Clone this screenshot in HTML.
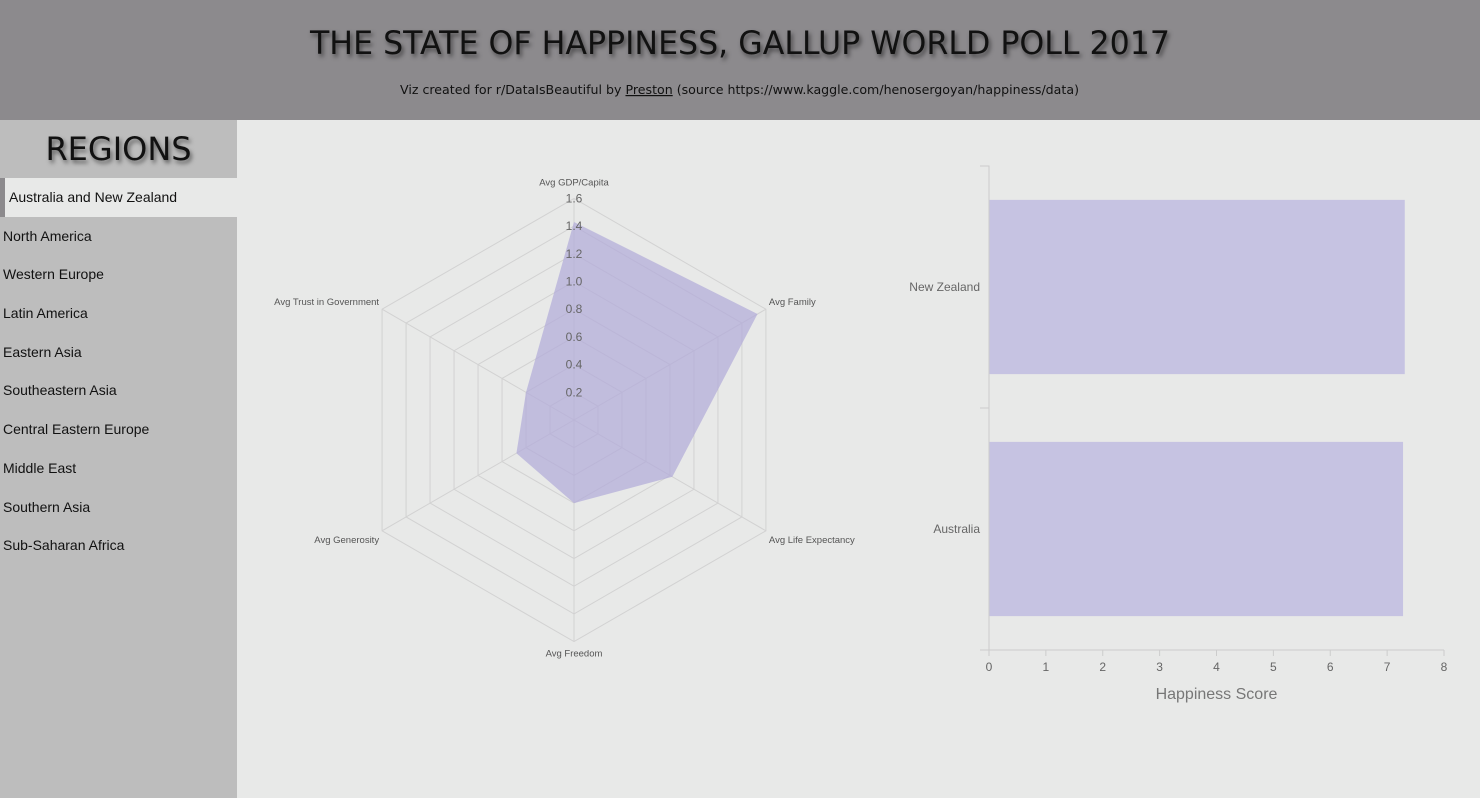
<!DOCTYPE html>
<html><head><meta charset="utf-8"><style>
body{margin:0;width:1480px;height:798px;background:#e8e9e8;font-family:"Liberation Sans",sans-serif;overflow:hidden;position:relative}
#hdr{position:absolute;left:0;top:0;width:1480px;height:120px;background:#8c8a8d}
#side{position:absolute;left:0;top:120px;width:237px;height:678px;background:#bdbdbd}
#side .t{height:58px;line-height:58px;text-align:center;font-family:"DejaVu Sans",sans-serif;font-size:32px;color:#111;text-shadow:2px 3px 4px rgba(0,0,0,.5)}
.it{height:38.7px;line-height:38.7px;padding-left:3px;font-size:14px;color:#111;box-sizing:border-box}
.it.sel{background:#e8e9e8;border-left:5px solid #8c8a8d;padding-left:4px}
svg text{font-family:"Liberation Sans",sans-serif}
</style></head><body>
<div id="hdr">
<svg width="1480" height="120">
<text x="310" y="54" textLength="860" lengthAdjust="spacingAndGlyphs" style="font-family:'DejaVu Sans',sans-serif;font-size:32px;fill:#111;filter:drop-shadow(2px 3px 2px rgba(0,0,0,.5))">THE STATE OF HAPPINESS, GALLUP WORLD POLL 2017</text>
<text x="400" y="94" textLength="679" lengthAdjust="spacingAndGlyphs" style="font-family:'DejaVu Sans',sans-serif;font-size:12px;fill:#111">Viz created for r/DataIsBeautiful by <tspan text-decoration="underline">Preston</tspan> (source https://www.kaggle.com/henosergoyan/happiness/data)</text>
</svg></div>
<div id="side">
<div class="t">REGIONS</div>
<div class="it sel">Australia and New Zealand</div>
<div class="it">North America</div>
<div class="it">Western Europe</div>
<div class="it">Latin America</div>
<div class="it">Eastern Asia</div>
<div class="it">Southeastern Asia</div>
<div class="it">Central Eastern Europe</div>
<div class="it">Middle East</div>
<div class="it">Southern Asia</div>
<div class="it">Sub-Saharan Africa</div>
</div>
<svg id="radar" style="position:absolute;left:0;top:0" width="1480" height="798"></svg>
<script>
const radarAxes=["Avg GDP/Capita","Avg Family","Avg Life Expectancy","Avg Freedom","Avg Generosity","Avg Trust in Government"];
const radarValues=[1.43,1.53,0.82,0.60,0.48,0.40];
const radarTicks=[0.2,0.4,0.6,0.8,1.0,1.2,1.4,1.6];
const barCountries=["New Zealand","Australia"];
const barValues=[7.31,7.28];
const barTicks=[0,1,2,3,4,5,6,7,8];
const NS="http://www.w3.org/2000/svg";
const svg=document.getElementById('radar');
function mk(t,a,txt){const e=document.createElementNS(NS,t);for(const k in a)e.setAttribute(k,a[k]);if(txt!==undefined)e.textContent=txt;svg.appendChild(e);return e;}
const cx=574,cy=420,R=221.6,maxV=1.6;
function rScale(v){return v/maxV*R;}
function pt(i,v){const a=-Math.PI/2+i*Math.PI/3;const r=rScale(v);return [cx+r*Math.cos(a),cy+r*Math.sin(a)];}
radarTicks.forEach(t=>{
 const p=radarAxes.map((_,i)=>pt(i,t).join(',')).join(' ');
 const e=mk('polygon',{points:p,fill:'none',stroke:'#d2d2d2','stroke-width':1});
 
 
});
radarAxes.forEach((n,i)=>{
 const [x,y]=pt(i,maxV);
 const l=mk('line',{x1:cx,y1:cy,x2:x,y2:y,stroke:'#d2d2d2'});
 
 
 let anchor='middle',dx=0,dy=0;
 if(i===0){dy=-13;}else if(i===3){dy=15;}else if(i<3){anchor='start';dx=3;dy=(i===1?-4:12);}else{anchor='end';dx=-3;dy=(i===5?-4:12);}
 const t=mk('text',{x:x+dx,y:y+dy,'text-anchor':anchor,'font-size':9.5,fill:'#555'},n);
 
 
});
const poly=mk('polygon',{points:radarValues.map((v,i)=>pt(i,v).join(',')).join(' '),fill:'rgba(177,170,217,0.7)',stroke:'none'});


radarTicks.forEach(t=>{
 const [x,y]=pt(0,t);
 const e=mk('text',{x:x,y:y+4,'text-anchor':'middle','font-size':12,fill:'#666'},t.toFixed(1));
 
 
});
// bar chart
const x0=989,x1=1444,yTop=166,yBot=650;
function xs(v){return x0+(v-barTicks[0])/(barTicks[barTicks.length-1]-barTicks[0])*(x1-x0);}
const band=(yBot-yTop)/barCountries.length;
barCountries.forEach((c,i)=>{
 const y=yTop+i*band+band*0.14,h=band*0.72;
 const b=mk('rect',{x:x0,y:y,width:xs(barValues[i])-x0,height:h,fill:'#c6c3e2'});
 
 
 const t=mk('text',{x:x0-9,y:yTop+i*band+band/2+4,'text-anchor':'end','font-size':12,fill:'#666'},c);
 
 
});
const ya=mk('path',{d:`M${x0-9},${yTop}H${x0}V${yBot}H${x0-9}M${x0-9},${yTop+band}H${x0}`,fill:'none',stroke:'#ccc'});


const xa=mk('line',{x1:x0,y1:yBot,x2:x1,y2:yBot,stroke:'#ccc'});


barTicks.forEach(t=>{
 const x=xs(t);
 const l=mk('line',{x1:x,y1:yBot,x2:x,y2:yBot+6,stroke:'#ccc'});
 
 
 const e=mk('text',{x:x,y:yBot+21,'text-anchor':'middle','font-size':12,fill:'#666'},t);
 
 
});
const xt=mk('text',{x:(x0+x1)/2,y:699,'text-anchor':'middle','font-size':16,fill:'#777'},'Happiness Score');


</script>
</body></html>
